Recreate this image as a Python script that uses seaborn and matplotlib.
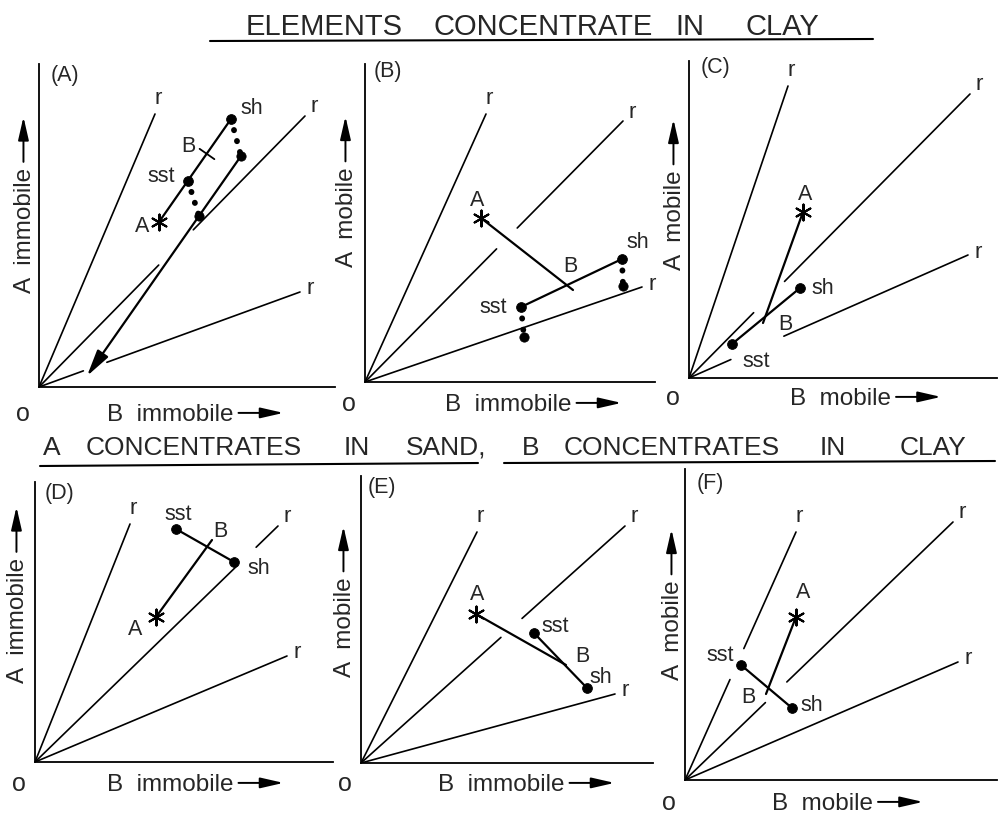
import matplotlib
matplotlib.use("Agg")
import numpy as np
import pandas as pd
import matplotlib.pyplot as plt
import seaborn as sns
from matplotlib.lines import Line2D
from matplotlib.text import OffsetFrom

# ---------------- data ----------------
PANEL_TAGS = ["(A)", "(B)", "(C)", "(D)", "(E)", "(F)"]
X_LABELS = ["B  immobile", "B  immobile", "B  mobile", "B  immobile", "B  immobile", "B  mobile"]
Y_LABELS = ["A  immobile", "A  mobile", "A  mobile", "A  immobile", "A  mobile", "A  mobile"]
TOP_TITLE = ["ELEMENTS", "CONCENTRATE", "IN", "CLAY"]
MID_TITLE_LEFT = ["A", "CONCENTRATES", "IN", "SAND,"]
MID_TITLE_RIGHT = ["B", "CONCENTRATES", "IN", "CLAY"]

# ratio lines "r" through the origin: end points (steep, middle, shallow)
RAY_END_X = [[116, 266, 261], [121, 258, 277], [99, 281, 279],
             [95, 243, 252], [116, 264, 254], [111, 268, 273]]
RAY_END_Y = [[273, 271, 95], [268, 261, 95], [292, 284, 123],
             [238, 236, 106], [231, 237, 69], [248, 258, 118]]
# interrupted stretch of each ray (fraction of its length)
RAY_GAPS = [[None, (0.45, 0.58), (0.17, 0.26)],
            [None, (0.51, 0.59), None],
            [None, (0.23, 0.34), (0.15, 0.34)],
            [None, (0.83, 0.91), None],
            [None, (0.53, 0.61), None],
            [(0.405, 0.53), (0.30, 0.38), None]]

STAR_X = [120, 116, 114, 121, 115, 111]      # element ratio point A
STAR_Y = [165, 164, 166, 145, 149, 163]
SST_X = [149, 156, 43, 141, 173, 56]         # sandstone
SST_Y = [206, 75, 34, 233, 130, 115]
SH_X = [192, 257, 111, 199, 226, 107]        # shale
SH_Y = [268, 123, 90, 200, 75, 72]
MIX_X = [168, 208, 74, 177, 205, 81]         # point B on the sst-sh line
MIX_Y = [233, 92, 55, 222, 98, 86]

# diluted positions (panels A and B)
SST2_X = [160, 159]
SST2_Y = [171, 45]
SH2_X = [202, 258]
SH2_Y = [231, 96]
ARROW_END_X = 48
ARROW_END_Y = 11

# ---------------- layout ----------------
W, H = 999, 820
ORIGIN = [(39, 388), (365, 383), (689, 379), (35, 763), (361, 764), (685, 781)]
EXTENT = [(296, 323), (290, 318), (308, 317), (298, 280), (292, 287), (312, 311)]
XLAB_START = [68, 80, 101, 72, 77, 87]
XLAB_BASE = [-33, -28, -26, -28, -27, -29]
YLAB_X = [-14, -18, -14, -17, -16, -12]
YLAB_START = [95, 116, 109, 80, 87, 101]
TAG_POS = [(26, 312), (23, 311), (26, 312), (24, 269), (21, 276), (25, 297)]
LABEL_OFF = [
    {"A": (-17, -4), "sst": (-27, 5), "sh": (21, 12), "B": (-19, 8)},
    {"A": (-4, 19), "sst": (-28, 0), "sh": (16, 17), "B": (-3, 24)},
    {"A": (2, 18), "sst": (24, -17), "sh": (23, 1), "B": (22, -1)},
    {"A": (-21, -12), "sst": (2, 15), "sh": (25, -6), "B": (8, 9)},
    {"A": (1, 20), "sst": (21, 7), "sh": (14, 11), "B": (16, 9)},
    {"A": (7, 25), "sst": (-21, 10), "sh": (20, 3), "B": (-18, -3)},
]
R_OFF = [(3, 16), (9, 10), (10, 4)]

sns.set_theme(style="white")
plt.rcParams["font.family"] = ["Liberation Sans", "DejaVu Sans"]
plt.rcParams["lines.solid_capstyle"] = "round"

fig = plt.figure(figsize=(W / 100, H / 100), dpi=100)
fig.patch.set_facecolor("white")

ARROW_STYLE = "-|>,head_length=0.7,head_width=0.16"


def ray_frame(p):
    rows = []
    for k in range(3):
        ex, ey = RAY_END_X[p][k], RAY_END_Y[p][k]
        gap = RAY_GAPS[p][k]
        pieces = [(0.0, 1.0)] if gap is None else [(0.0, gap[0]), (gap[1], 1.0)]
        for j, (t0, t1) in enumerate(pieces):
            for t in (t0, t1):
                rows.append({"x": ex * t, "y": ey * t, "seg": f"r{k}-{j}"})
    return pd.DataFrame(rows)


for p in range(6):
    ox, oy = ORIGIN[p]
    xl, yl = EXTENT[p]
    ax = fig.add_axes([ox / W, (H - oy) / H, xl / W, yl / H])
    ax.patch.set_alpha(0)

    # ratio rays
    sns.lineplot(data=ray_frame(p), x="x", y="y", units="seg", estimator=None,
                 sort=False, color="black", lw=1.2, ax=ax, legend=False)
    for k in range(3):
        ax.annotate("r", xy=(RAY_END_X[p][k], RAY_END_Y[p][k]), xytext=R_OFF[k],
                    textcoords="offset pixels", ha="center", va="center",
                    fontsize=16, annotation_clip=False)

    # sample lines
    if p == 0:
        seg = pd.DataFrame({"x": [STAR_X[p], SH_X[p]], "y": [STAR_Y[p], SH_Y[p]],
                            "seg": ["a", "a"]})
    else:
        seg = pd.DataFrame({"x": [STAR_X[p], MIX_X[p], SST_X[p], SH_X[p]],
                            "y": [STAR_Y[p], MIX_Y[p], SST_Y[p], SH_Y[p]],
                            "seg": ["a", "a", "b", "b"]})
    sns.lineplot(data=seg, x="x", y="y", units="seg", estimator=None, sort=False,
                 color="black", lw=1.6, ax=ax, legend=False)

    if p == 0:
        # tick marking B on the line
        d = np.array([SH_X[p] - STAR_X[p], SH_Y[p] - STAR_Y[p]], float)
        n = np.array([d[1], -d[0]]) / np.hypot(*d) * 9
        ax.plot([MIX_X[p] - n[0], MIX_X[p] + n[0]], [MIX_Y[p] - n[1], MIX_Y[p] + n[1]],
                color="black", lw=1.3)

    if p < 2:
        # dotted shifts to the diluted positions
        for (x0, y0, x1, y1) in [(SST_X[p], SST_Y[p], SST2_X[p], SST2_Y[p]),
                                 (SH_X[p], SH_Y[p], SH2_X[p], SH2_Y[p])]:
            ax.plot([x0, x1], [y0, y1], color="black", lw=4.2,
                    ls=(0, (0.05, 1.9)), dash_capstyle="round")
        sns.scatterplot(x=SST2_X[p:p + 1] + SH2_X[p:p + 1], y=SST2_Y[p:p + 1] + SH2_Y[p:p + 1],
                        s=45, color="black", edgecolor="black", ax=ax, zorder=5,
                        legend=False)
        if p == 0:
            ax.annotate("", xy=(ARROW_END_X, ARROW_END_Y), xytext=(SH2_X[p], SH2_Y[p]),
                        arrowprops=dict(arrowstyle="-|>,head_length=0.9,head_width=0.22",
                                        color="black", lw=1.6, shrinkA=0, shrinkB=0,
                                        mutation_scale=18))

    # sample dots and A star
    sns.scatterplot(x=[SST_X[p], SH_X[p]], y=[SST_Y[p], SH_Y[p]], s=50, color="black",
                    edgecolor="black", ax=ax, zorder=6, legend=False)
    ax.scatter([STAR_X[p]], [STAR_Y[p]], marker=(6, 2, 0), s=130, color="black",
               lw=1.5, zorder=6)

    off = LABEL_OFF[p]
    for name, (px, py) in [("A", (STAR_X[p], STAR_Y[p])), ("sst", (SST_X[p], SST_Y[p])),
                           ("sh", (SH_X[p], SH_Y[p])), ("B", (MIX_X[p], MIX_Y[p]))]:
        ax.annotate(name, xy=(px, py), xytext=off[name], textcoords="offset pixels",
                    ha="center", va="center", fontsize=15.5, annotation_clip=False)

    # axes
    ax.set_xlim(0, xl)
    ax.set_ylim(0, yl)
    ax.set_xticks([])
    ax.set_yticks([])
    ax.set_xlabel("")
    ax.set_ylabel("")
    for s in ["top", "right"]:
        ax.spines[s].set_visible(False)
    for s in ["left", "bottom"]:
        ax.spines[s].set_color("black")
        ax.spines[s].set_linewidth(1.3)

    ax.text(TAG_POS[p][0], TAG_POS[p][1], PANEL_TAGS[p], ha="center", va="center",
            fontsize=15.5, clip_on=False)
    ax.text(-16, XLAB_BASE[p], "o", ha="center", va="baseline", fontsize=18,
            clip_on=False)

    tx = ax.text(XLAB_START[p], XLAB_BASE[p], X_LABELS[p], ha="left", va="baseline",
                 fontsize=17.5, clip_on=False)
    ref = OffsetFrom(tx, (1.0, 0.55), unit="pixels")
    ax.annotate("", xy=(50, 0), xycoords=ref, xytext=(5, 0), textcoords=ref,
                arrowprops=dict(arrowstyle=ARROW_STYLE, color="black", lw=1.4,
                                shrinkA=0, shrinkB=0, mutation_scale=20))

    ty = ax.text(YLAB_X[p], YLAB_START[p], Y_LABELS[p], rotation=90, ha="center",
                 va="bottom", fontsize=17.5, clip_on=False)
    refy = OffsetFrom(ty, (0.43, 1.0), unit="pixels")
    ax.annotate("", xy=(0, 50), xycoords=refy, xytext=(0, 5), textcoords=refy,
                arrowprops=dict(arrowstyle=ARROW_STYLE, color="black", lw=1.4,
                                shrinkA=0, shrinkB=0, mutation_scale=20))

# ---------------- headings ----------------
def fx(x):
    return x / W


def fy(y):
    return 1 - y / H


for word, cx in zip(TOP_TITLE, [324, 543, 690, 782]):
    fig.text(fx(cx), fy(35), word, ha="center", va="baseline", fontsize=21)
fig.add_artist(Line2D([fx(210), fx(873)], [fy(42), fy(40)], transform=fig.transFigure,
                      color="black", lw=1.5))

for word, cx in zip(MID_TITLE_LEFT + MID_TITLE_RIGHT,
                    [52, 194, 357, 446, 531, 672, 833, 933]):
    fig.text(fx(cx), fy(455), word, ha="center", va="baseline", fontsize=19)
fig.add_artist(Line2D([fx(40), fx(478)], [fy(467), fy(464)], transform=fig.transFigure,
                      color="black", lw=1.5))
fig.add_artist(Line2D([fx(504), fx(995)], [fy(464), fy(462)], transform=fig.transFigure,
                      color="black", lw=1.5))

fig.savefig("out.png", dpi=100, facecolor="white")
